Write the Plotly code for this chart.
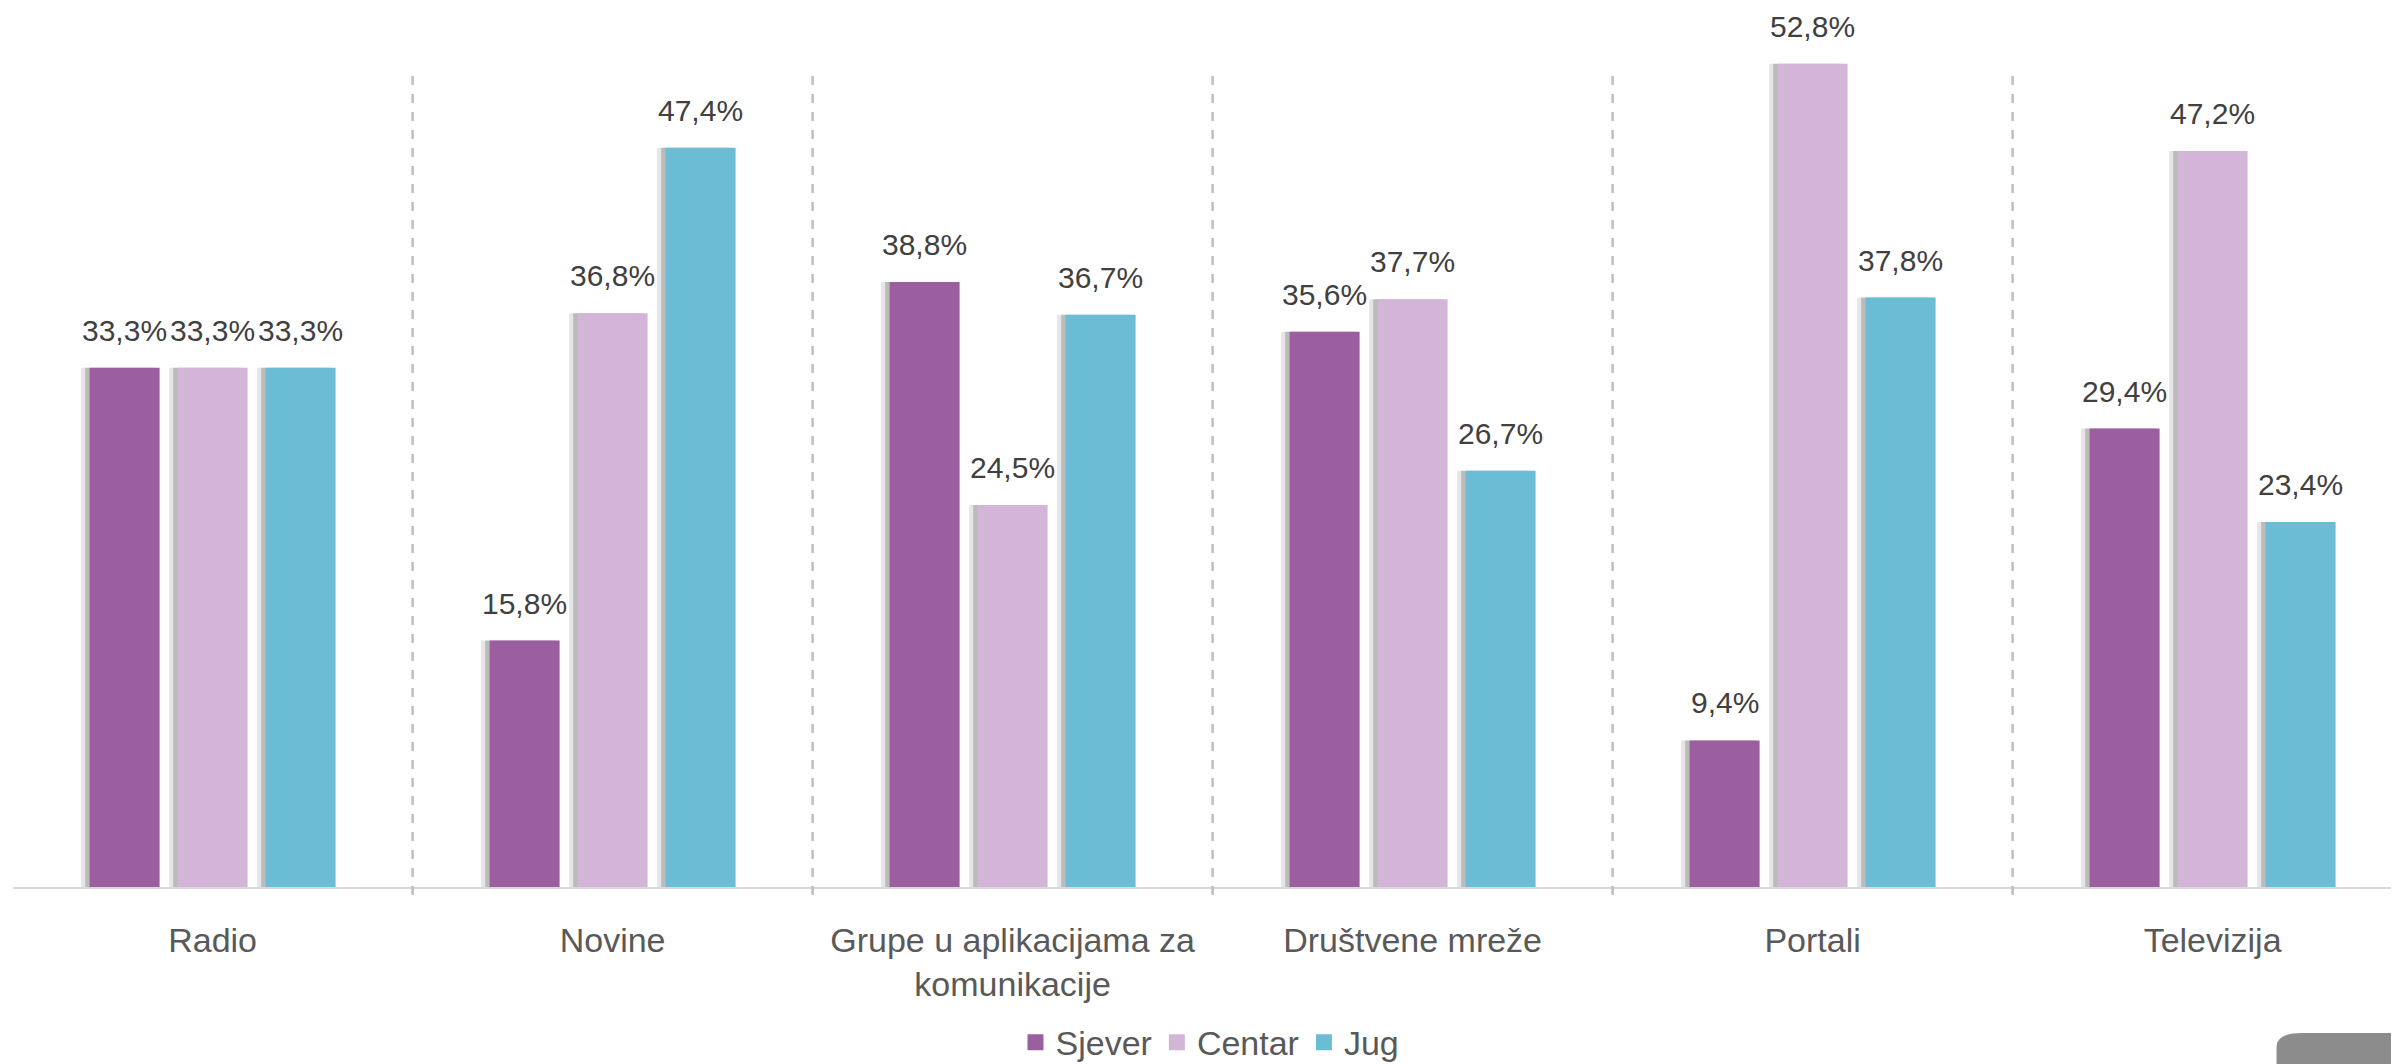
import plotly.graph_objects as go

categories = ["Radio", "Novine", "Grupe u aplikacijama za<br>komunikacije",
              "Društvene mreže", "Portali", "Televizija"]
series_names = ["Sjever", "Centar", "Jug"]
sjever = [33.3, 15.8, 38.8, 35.6, 9.4, 29.4]
centar = [33.3, 36.8, 24.5, 37.7, 52.8, 47.2]
jug = [33.3, 47.4, 36.7, 26.7, 37.8, 23.4]
colors = ["#9B5FA0", "#D3B6D7", "#6BBDD6"]

series_values = [sjever, centar, jug]

# bar geometry in category units (one category = 400 px)
bar_width = 0.175
slot = 0.22
offsets = [-slot - bar_width / 2, -bar_width / 2, slot - bar_width / 2]
slot_px = [-88, 0, 88]

fig = go.Figure()

# soft drop shadows behind bars
for vals, off in zip(series_values, offsets):
    for shift, alpha in [(0.021, 0.10), (0.011, 0.18)]:
        fig.add_trace(go.Bar(
            x=categories, y=vals, width=bar_width, offset=off - shift,
            marker=dict(color=f"rgba(0,0,0,{alpha})", line=dict(width=0)),
            showlegend=False, hoverinfo="skip", cliponaxis=False
        ))

for name, vals, off, col in zip(series_names, series_values, offsets, colors):
    fig.add_trace(go.Bar(
        x=categories, y=vals, name=name, width=bar_width, offset=off,
        marker=dict(color=col, line=dict(width=0)),
        showlegend=False, cliponaxis=False
    ))

# legend entries with bigger square swatches
for name, col in zip(series_names, colors):
    fig.add_trace(go.Scatter(
        x=[None], y=[None], mode="markers", name=name,
        marker=dict(symbol="square", size=16, color=col)
    ))

# value labels
for vals, dx in zip(series_values, slot_px):
    for cat, v in zip(categories, vals):
        fig.add_annotation(
            x=cat, y=v, xshift=dx, yshift=19, yanchor="bottom",
            text=f"{v:.1f}%".replace(".", ","), showarrow=False,
            font=dict(family="Liberation Sans", size=30, color="#404040")
        )

# dashed category separators
for k in range(len(categories) - 1):
    fig.add_shape(
        type="line", xref="x", yref="paper", x0=k + 0.5, x1=k + 0.5,
        y0=-0.009, y1=0.93, line=dict(color="#BFBFBF", width=2.5, dash="dash")
    )

# grey blob in the bottom-right corner
fig.add_shape(
    type="path", xref="paper", yref="paper", fillcolor="#8C8C8C",
    line=dict(width=0), layer="above",
    path="M 0.9455,-0.25 L 0.9455,-0.182 Q 0.9455,-0.166 0.956,-0.166 "
         "L 0.994,-0.166 Q 1.0,-0.166 1.0,-0.175 L 1.0,-0.25 Z"
)

fig.update_layout(
    width=2399, height=1064,
    barmode="overlay",
    plot_bgcolor="white", paper_bgcolor="white",
    margin=dict(l=5, r=0, t=0, b=175),
    font=dict(family="Liberation Sans", size=34, color="#595959"),
    showlegend=True,
    legend=dict(orientation="h", x=0.5, xanchor="center", y=-0.177, yanchor="middle",
                font=dict(size=34, color="#595959"), itemsizing="trace",
                bgcolor="rgba(0,0,0,0)"),
    xaxis=dict(range=[-0.499, 5.486], showgrid=False, zeroline=False,
               showline=True, linecolor="#D9D9D9", linewidth=2,
               ticks="outside", ticklen=0, ticklabelstandoff=22,
               tickfont=dict(size=34, color="#595959")),
    yaxis=dict(range=[0, 56.37], visible=False, showgrid=False, zeroline=False),
)

fig.write_html("out.html")
